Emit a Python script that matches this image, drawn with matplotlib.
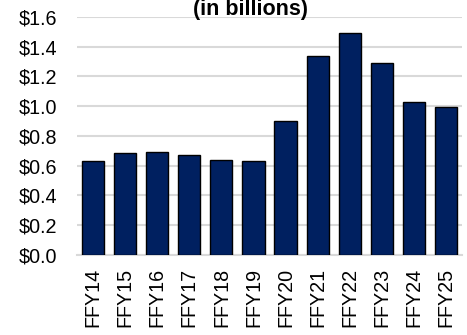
import matplotlib.pyplot as plt
from matplotlib.ticker import FuncFormatter

plt.rcParams['font.family'] = ['Liberation Sans', 'DejaVu Sans']

years = ['FFY14', 'FFY15', 'FFY16', 'FFY17', 'FFY18', 'FFY19',
         'FFY20', 'FFY21', 'FFY22', 'FFY23', 'FFY24', 'FFY25']
spending = [0.63, 0.686, 0.692, 0.67, 0.639, 0.634,
            0.90, 1.34, 1.49, 1.293, 1.027, 0.995]
y_ticks = [0.0, 0.2, 0.4, 0.6, 0.8, 1.0, 1.2, 1.4, 1.6]

fig = plt.figure(figsize=(4.67, 3.35), dpi=100)
ax = fig.add_axes([0.1649, 0.2388, 0.8244, 0.7105])

ax.bar(range(len(years)), spending, width=0.69, color='#002060',
       edgecolor='black', linewidth=1.0, zorder=3)

ax.set_xlim(-0.5, len(years) - 0.5)
ax.set_ylim(0, 1.6)
ax.set_yticks(y_ticks)
ax.yaxis.set_major_formatter(FuncFormatter(lambda v, _: f'${v:.1f}'))
ax.set_xticks(range(len(years)))
ax.set_xticklabels(years, rotation=90)

ax.grid(axis='y', color='#d9d9d9', linewidth=1.5, zorder=0)
ax.set_axisbelow(True)
for name in ['top', 'right', 'left']:
    ax.spines[name].set_visible(False)
ax.spines['bottom'].set_color('#d9d9d9')
ax.spines['bottom'].set_linewidth(1.5)
ax.tick_params(axis='both', length=0, labelsize=14.2, colors='#000000')
ax.tick_params(axis='y', pad=14)
ax.tick_params(axis='x', pad=9)

fig.text(250 / 467, 1.0 + 1 / 335, '(in billions)', ha='center', va='top',
         fontsize=15.5, fontweight='bold')

fig.savefig('out.png', dpi=100)
